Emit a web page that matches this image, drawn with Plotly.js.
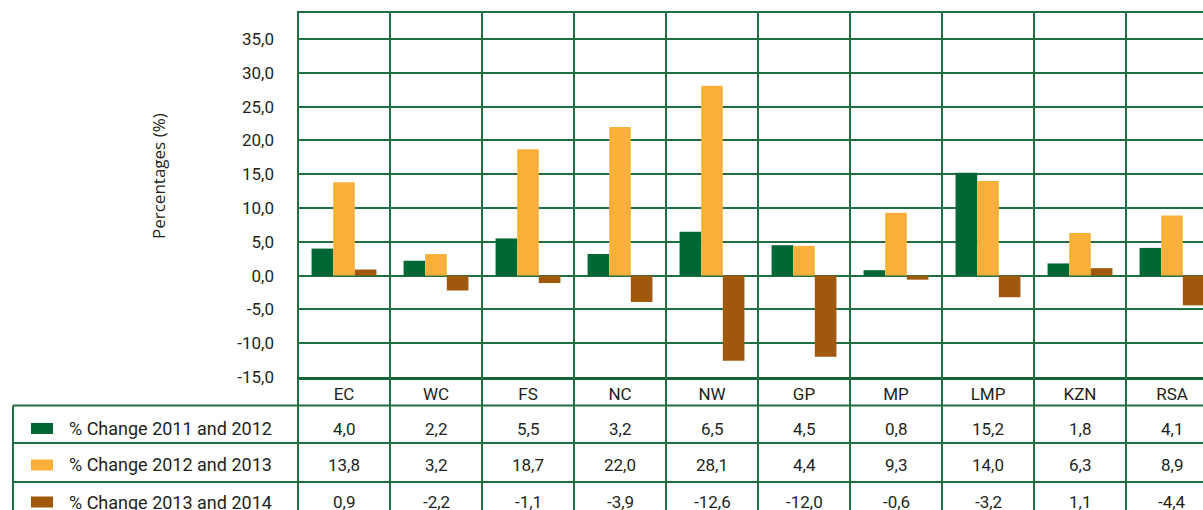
<!DOCTYPE html>
<html>
<head>
<meta charset="utf-8">
<script src="https://cdn.plot.ly/plotly-3.0.1.min.js"></script>
<style>
html, body { margin: 0; padding: 0; overflow: hidden; background: #fff; width: 1203px; height: 510px; }
#chart { width: 1225px; height: 510px; }
</style>
</head>
<body>
<div id="chart"></div>
<script>
// ---- data ----
const categories = ["EC", "WC", "FS", "NC", "NW", "GP", "MP", "LMP", "KZN", "RSA"];
const seriesNames = ["% Change 2011 and 2012", "% Change 2012 and 2013", "% Change 2013 and 2014"];
const change2011_2012 = [4.0, 2.2, 5.5, 3.2, 6.5, 4.5, 0.8, 15.2, 1.8, 4.1];
const change2012_2013 = [13.8, 3.2, 18.7, 22.0, 28.1, 4.4, 9.3, 14.0, 6.3, 8.9];
const change2013_2014 = [0.9, -2.2, -1.1, -3.9, -12.6, -12.0, -0.6, -3.2, 1.1, -4.4];
const yTickValues = [-15, -10, -5, 0, 5, 10, 15, 20, 25, 30, 35];
const yTitle = "Percentages (%)";

// ---- styling ----
const colors = ["#006633", "#FBB03B", "#A0590C"];
const gridColor = "#1F6F42";
const textColor = "#231F20";
const font = "Roboto, 'DejaVu Sans', sans-serif";

const allSeries = [change2011_2012, change2012_2013, change2013_2014];

// plot area geometry (pixels) for paper conversion
const L = 297, T = 12, PW = 922, PH = 365;
const px = p => (p - L) / PW;
const py = p => (T + PH - p) / PH;

const traces = allSeries.map((vals, i) => ({
  type: "bar",
  name: seriesNames[i],
  x: categories,
  y: vals,
  marker: { color: colors[i], line: { width: 0 } },
  showlegend: false,
  hoverinfo: "skip"
}));

const fmt = v => v.toFixed(1).replace(".", ",");

const shapes = [];
const annotations = [];

// vertical lines at category boundaries (through plot and table)
for (let i = 0; i <= categories.length; i++) {
  shapes.push({
    type: "line", xref: "x", yref: "paper",
    x0: i - 0.5, x1: i - 0.5, y0: 1, y1: py(530),
    line: { color: gridColor, width: 2 }, layer: "above"
  });
}
// top border
shapes.push({ type: "line", xref: "paper", yref: "paper", x0: 0, x1: 1.05, y0: 1, y1: 1,
  line: { color: gridColor, width: 2 } });
// table left edge
shapes.push({ type: "line", xref: "paper", yref: "paper", x0: px(13), x1: px(13), y0: py(405.5), y1: py(530),
  line: { color: gridColor, width: 2 } });
// table horizontal lines
[405.5, 443, 482, 520].forEach(p => {
  shapes.push({ type: "line", xref: "paper", yref: "paper", x0: px(13), x1: 1.05, y0: py(p), y1: py(p),
    line: { color: gridColor, width: 2 } });
});

const rowCenters = [428.5, 465, 502];
allSeries.forEach((vals, r) => {
  // legend swatch
  shapes.push({ type: "rect", xref: "paper", yref: "paper",
    x0: px(31), x1: px(53), y0: py(rowCenters[r] - 5.5), y1: py(rowCenters[r] + 5.5),
    fillcolor: colors[r], line: { width: 0 } });
  annotations.push({ xref: "paper", yref: "paper", x: px(67), y: py(rowCenters[r]),
    xanchor: "left", yanchor: "middle", showarrow: false, text: seriesNames[r],
    font: { family: font, size: 18, color: textColor } });
  vals.forEach((v, c) => {
    annotations.push({ xref: "x", yref: "paper", x: categories[c], y: py(rowCenters[r]),
      xanchor: "center", yanchor: "middle", showarrow: false, text: fmt(v),
      font: { family: font, size: 17, color: textColor } });
  });
});

// y-axis title
annotations.push({ xref: "paper", yref: "paper", x: px(158), y: py(176), textangle: -90,
  xanchor: "center", yanchor: "middle", showarrow: false, text: yTitle,
  font: { family: "'Open Sans', sans-serif", size: 17, color: textColor } });

const layout = {
  width: 1225, height: 510,
  margin: { l: L, r: 1225 - L - PW, t: T, b: 510 - T - PH, pad: 0 },
  paper_bgcolor: "#ffffff", plot_bgcolor: "#ffffff",
  separators: ",.",
  barmode: "group", bargap: 0.295, bargroupgap: 0,
  xaxis: {
    type: "category",
    showgrid: false, zeroline: false,
    showline: true, linecolor: "#0F6334", linewidth: 3,
    ticks: "", ticklabelstandoff: 0,
    tickfont: { family: font, size: 17, color: textColor },
    fixedrange: true
  },
  yaxis: {
    range: [-15, 39],
    tickvals: yTickValues, ticktext: yTickValues.map(fmt),
    showgrid: true, gridcolor: gridColor, gridwidth: 2,
    zeroline: true, zerolinecolor: gridColor, zerolinewidth: 2,
    showline: false,
    ticks: "", ticklabelstandoff: 22,
    tickfont: { family: font, size: 17, color: textColor },
    fixedrange: true
  },
  shapes: shapes,
  annotations: annotations,
  showlegend: false
};

Plotly.newPlot("chart", traces, layout, { displayModeBar: false, staticPlot: true });
</script>
</body>
</html>
